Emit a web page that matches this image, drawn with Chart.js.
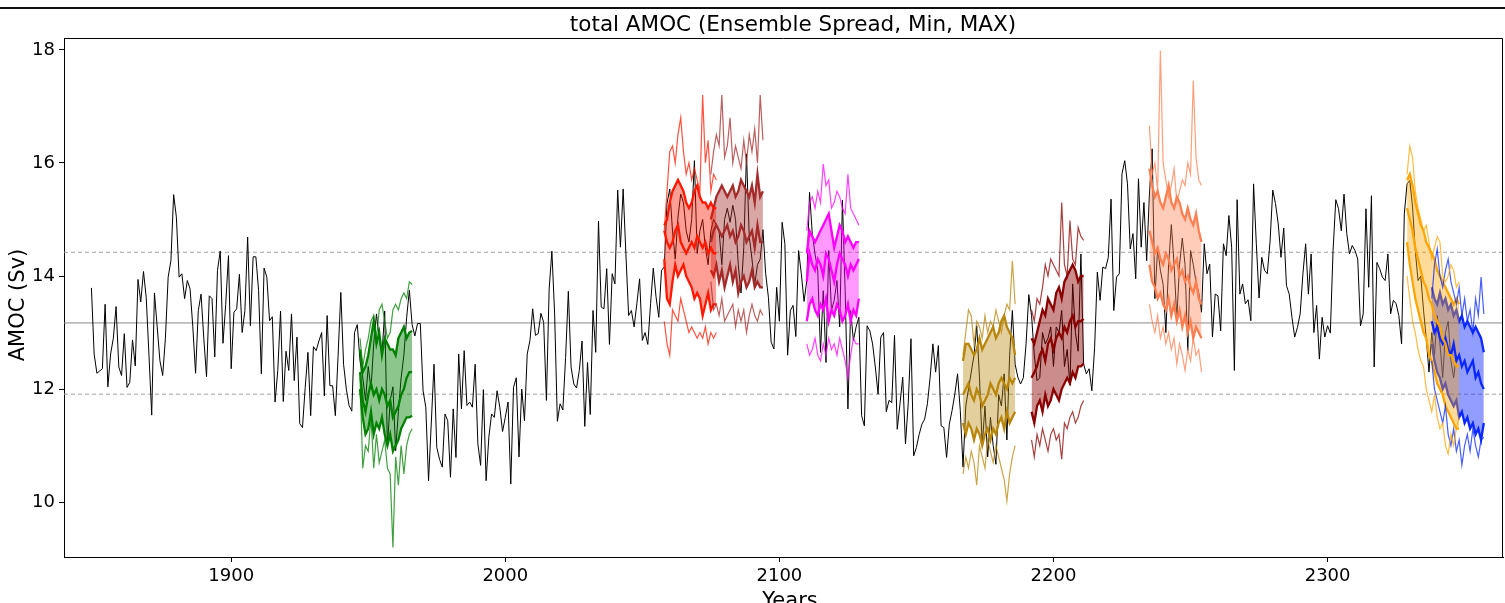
<!DOCTYPE html>
<html>
<head>
<meta charset="utf-8">
<script src="https://cdn.jsdelivr.net/npm/chart.js@4.4.1/dist/chart.umd.min.js"></script>
<style>
  html, body { margin: 0; padding: 0; background: #fff; }
  #wrap { position: relative; width: 1505px; height: 603px; }
</style>
</head>
<body>
<div id="wrap"><canvas id="amoc" width="1505" height="603"></canvas></div>
<script>
// serie control (negro), un valor por año desde 1849
var añoInicio = 1849;
var amocControl = [
  13.79,
  12.62, 12.28, 12.32, 12.36, 13.50, 12.04, 12.62, 12.90, 13.46, 12.39,
  12.24, 12.98, 12.03, 12.12, 12.87, 12.41, 13.94, 13.54, 14.08, 13.62,
  12.60, 11.54, 13.70, 13.10, 12.50, 12.24, 12.90, 13.98, 14.27, 15.44,
  15.04, 13.98, 14.04, 13.60, 13.92, 13.77, 13.10, 12.28, 13.39, 13.68,
  12.90, 12.22, 13.65, 13.60, 12.57, 14.10, 14.44, 12.81, 13.50, 14.36,
  12.36, 13.36, 13.42, 14.03, 13.00, 13.39, 14.69, 13.12, 14.34, 14.34,
  13.74, 12.27, 14.14, 13.98, 13.21, 13.28, 11.77, 12.33, 13.38, 11.78,
  12.67, 12.33, 13.33, 12.15, 12.92, 11.39, 11.32, 12.03, 12.65, 11.53,
  12.75, 12.68, 12.85, 13.00, 11.88, 13.30, 12.06, 12.06, 11.53, 12.60,
  13.71, 12.44, 12.00, 11.71, 11.61, 13.00, 13.14, 12.50, 12.20, 11.80,
  12.40, 12.00, 12.80, 13.33, 12.90, 12.60, 13.38, 10.97, 11.80, 12.04,
  10.91, 11.60, 12.20, 12.60, 13.26, 13.75, 13.14, 12.94, 13.16, 13.16,
  11.97, 11.68, 10.38, 11.40, 12.44, 10.97, 10.76, 10.62, 11.56, 11.44,
  10.44, 11.65, 10.79, 12.62, 11.65, 12.68, 11.71, 11.77, 11.68, 12.44,
  11.03, 10.65, 11.99, 10.38, 11.15, 11.56, 11.50, 11.97, 11.68, 11.25,
  11.50, 11.77, 10.32, 12.03, 12.20, 10.80, 12.00, 11.44, 12.62, 12.86,
  13.42, 12.95, 12.98, 13.34, 13.18, 11.80, 13.77, 14.44, 13.33, 11.43,
  11.74, 11.63, 12.56, 13.73, 12.39, 12.09, 12.02, 12.33, 12.85, 11.34,
  12.47, 11.55, 13.39, 12.65, 14.97, 13.45, 13.42, 14.13, 12.79, 14.04,
  13.86, 15.52, 14.51, 15.54, 14.39, 13.30, 13.39, 13.10, 13.51, 13.95,
  12.86, 13.00, 12.79, 13.51, 14.14, 13.63, 13.27, 14.10, 14.16, 15.28,
  15.54, 14.80, 14.30, 15.04, 15.45, 15.30, 14.80, 14.60, 15.00, 16.04,
  14.40, 14.80, 15.00, 14.50, 14.20, 14.80, 15.00, 14.90, 14.80, 14.20,
  15.00, 15.20, 14.95, 15.25, 15.00, 14.20, 13.70, 14.50, 16.16, 14.70,
  14.30, 13.85, 14.20, 14.30, 14.82, 14.04, 13.62, 12.83, 12.71, 13.80,
  13.20, 14.95, 14.57, 12.60, 13.39, 13.48, 12.93, 14.45, 14.04, 13.55,
  13.92, 15.48, 14.75, 14.39, 14.10, 12.65, 13.74, 12.47, 14.45, 13.39,
  13.57, 13.92, 13.10, 15.34, 13.74, 11.65, 13.39, 12.86, 13.10, 13.27,
  11.53, 11.35, 13.12, 13.03, 12.80, 12.39, 11.91, 12.92, 13.00, 11.60,
  11.80, 11.76, 12.95, 11.29, 11.74, 12.21, 11.03, 11.74, 12.89, 10.82,
  10.97, 11.20, 11.38, 11.47, 11.74, 12.21, 12.80, 12.30, 12.77, 11.35,
  11.32, 10.79, 11.38, 11.62, 11.91, 12.27, 11.62, 10.62, 11.70, 12.00,
  12.30, 12.60, 13.12, 12.20, 11.00, 11.70, 10.80, 11.50, 11.00, 10.67,
  11.90, 11.70, 12.27, 11.10, 12.60, 13.39, 12.44, 12.21, 12.09, 12.20,
  12.80, 13.67, 13.30, 12.60, 12.15, 12.20, 13.00, 12.80, 12.90, 13.10,
  12.40, 13.10, 13.00, 13.39, 12.40, 12.70, 12.07, 13.86, 13.00, 12.67,
  14.39, 12.44, 12.27, 12.36, 11.97, 12.73, 14.07, 13.57, 14.16, 14.13,
  14.33, 15.36, 13.39, 13.98, 14.04, 15.81, 16.04, 15.63, 14.48, 14.75,
  13.95, 15.72, 14.51, 15.30, 14.27, 15.45, 16.25, 13.60, 14.50, 14.10,
  13.85, 13.00, 14.20, 14.91, 14.20, 13.25, 14.20, 14.67, 14.20, 12.68,
  14.45, 14.20, 13.90, 13.70, 13.36, 14.57, 14.04, 14.21, 12.92, 13.68,
  13.65, 13.03, 14.57, 14.36, 15.07, 14.51, 12.33, 15.35, 13.68, 13.86,
  13.51, 13.58, 13.21, 15.63, 14.57, 13.61, 14.33, 14.10, 14.04, 14.60,
  15.52, 15.28, 14.92, 14.33, 14.85, 13.83, 13.68, 13.27, 12.92, 13.09,
  13.33, 14.04, 14.57, 13.68, 14.39, 13.00, 13.48, 12.53, 13.27, 12.92,
  13.12, 12.99, 14.45, 15.35, 15.19, 14.80, 15.45, 14.75, 14.39, 14.54,
  14.45, 14.30, 13.12, 13.33, 15.19, 13.80, 15.42, 12.39, 14.24, 14.13,
  13.98, 13.92, 14.39, 13.33, 13.57, 13.51, 13.30, 12.80, 15.10, 15.63,
  15.69, 15.22, 14.45, 13.92, 14.00, 13.40, 12.90, 12.30, 13.00, 12.60,
  13.30, 12.80, 12.20, 13.00, 13.20, 12.50, 12.20, 12.60
];

// media y +-1 desviación del control
var mediaControl = 13.17;
var bandaControl = [11.91, 14.42];

// ejes
var xMin = 1839, xMax = 2364;
var yMin = 9.03, yMax = 18.21;
var ticksX = [1900, 2000, 2100, 2200, 2300];
var ticksY = [10, 12, 14, 16, 18];

// ensembles: año inicial, máximo, banda superior, media, banda inferior, mínimo
var verdeInicio = 1947;
var verdeMax   = [12.9,12.4,12.7,12.9,13.2,13.3,12.9,13.4,13.5,13.2,12.9,13.0,13.4,13.5,13.4,13.6,13.7,13.6,13.9,13.85];
var verdeSup   = [12.7,12.3,12.4,12.6,12.9,13.2,12.8,13.0,12.6,12.9,12.8,12.7,12.7,12.6,12.9,13.0,13.1,12.9,13.0,13.03];
var verdeMedia = [12.3,11.8,11.6,11.9,12.1,11.9,12.0,11.8,12.0,11.9,11.7,11.8,11.5,11.6,11.7,11.9,12.0,12.2,12.3,12.3];
var verdeInf   = [12.0,11.5,11.2,11.3,11.6,11.2,11.4,11.3,11.5,11.2,11.0,11.2,10.9,11.0,11.1,11.3,11.4,11.5,11.5,11.53];
var verdeMin   = [12.2,10.6,11.0,10.9,11.5,10.6,11.2,10.7,10.9,11.1,10.6,10.5,9.2,10.8,10.3,11.0,10.5,11.0,11.2,11.3];

var rojoInicio = 2058;
var rojoMax   = [14.8,15.5,16.2,16.3,16.0,16.5,16.8,16.2,15.8,16.0,15.7,15.9,15.7,15.5,17.2,16.0,16.4,15.5,15.8,15.7];
var rojoSup   = [14.9,15.0,15.3,15.5,15.6,15.7,15.6,15.5,15.3,15.2,15.3,15.5,15.6,15.4,15.3,15.3,15.2,15.3,15.2,15.2];
var rojoMedia = [14.8,14.6,14.5,14.6,14.8,14.9,14.6,14.5,14.4,14.5,14.6,14.5,14.7,14.6,14.5,14.6,14.4,14.5,14.4,14.4];
var rojoInf   = [14.3,13.6,13.5,13.9,14.2,14.0,14.1,14.2,14.0,13.9,13.8,13.6,13.7,13.6,13.3,13.5,13.7,13.4,13.5,13.5];
var rojoMin   = [13.2,12.8,12.6,13.4,13.3,13.2,13.6,13.4,13.2,13.0,13.1,13.0,12.9,13.0,12.9,13.1,12.8,13.0,12.9,13.0];

var marronInicio = 2075;
var marronMax   = [15.8,16.2,16.5,16.3,17.2,16.1,16.3,16.8,16.0,16.3,16.1,15.9,16.4,16.0,16.5,16.2,16.6,16.0,17.2,16.4];
var marronSup   = [15.0,15.2,15.4,15.5,15.6,15.5,15.4,15.5,15.6,15.4,15.5,15.7,15.6,15.5,15.4,15.6,15.3,15.8,15.4,15.5];
var marronMedia = [14.6,14.8,14.9,14.8,14.7,14.8,14.9,14.7,14.8,14.6,14.7,14.9,14.8,14.6,14.7,14.8,14.5,14.9,14.6,14.6];
var marronInf   = [14.1,14.0,14.2,13.9,14.1,13.8,14.0,14.2,13.9,14.1,13.7,13.9,14.0,13.8,13.9,14.1,13.8,13.9,13.8,13.8];
var marronMin   = [13.9,13.4,13.5,13.3,13.6,13.2,13.3,13.4,13.5,13.1,13.4,13.2,13.4,13.0,13.3,13.5,13.3,13.2,13.4,13.3];

var magentaInicio = 2110;
var magentaMax   = [14.8,15.3,15.4,15.2,15.5,15.3,15.98,15.6,15.7,15.2,15.3,15.5,15.4,15.2,15.1,15.8,15.2,15.1,15.0,14.9];
var magentaSup   = [14.4,14.8,14.7,14.6,14.7,14.8,14.9,15.0,15.1,14.8,14.5,14.7,14.9,14.8,14.6,14.7,14.6,14.5,14.6,14.6];
var magentaMedia = [13.9,14.4,14.2,14.1,14.3,14.2,14.0,14.4,14.3,14.1,13.9,14.2,14.4,14.3,14.2,14.0,14.2,14.1,14.2,14.3];
var magentaInf   = [13.2,13.5,13.6,13.4,13.3,13.5,13.4,13.6,13.2,13.4,13.3,13.5,13.4,13.2,13.3,13.5,13.2,13.4,13.3,13.6];
var magentaMin   = [12.8,12.6,12.7,12.9,12.6,12.5,12.8,12.6,12.9,12.7,12.8,12.6,12.9,12.7,12.5,12.2,12.6,12.9,12.8,12.8];

var oroInicio = 2167;
var oroMax   = [12.6,13.0,13.4,13.3,12.8,13.2,13.1,12.9,13.3,13.0,13.2,13.1,13.4,13.2,13.0,13.3,13.5,13.4,14.27,13.5];
var oroSup   = [12.5,12.8,12.8,12.7,12.6,12.7,12.9,12.7,12.8,12.9,13.0,13.1,12.9,13.0,13.2,13.3,13.1,13.0,12.9,12.6];
var oroMedia = [11.9,12.0,12.1,11.9,11.8,12.0,11.9,11.7,11.8,11.9,12.1,12.0,11.9,12.1,12.2,12.1,12.0,12.2,12.1,12.2];
var oroInf   = [11.4,11.2,11.4,11.3,11.1,11.3,11.2,11.0,11.2,11.3,11.1,11.3,11.2,11.4,11.5,11.3,11.6,11.4,11.5,11.6];
var oroMin   = [10.5,10.8,10.6,10.9,10.7,10.3,11.0,10.8,10.6,11.1,10.9,10.7,11.0,10.8,10.6,10.4,10.02,10.5,10.8,11.0];

var granateInicio = 2192;
var granateMax   = [13.4,13.2,13.6,13.5,13.8,14.2,14.0,14.3,14.2,14.1,14.0,15.3,14.2,14.0,14.98,14.3,14.2,14.86,14.7,14.63];
var granateSup   = [12.9,12.8,13.0,13.2,13.4,13.3,13.6,13.5,13.4,13.7,13.8,13.6,13.9,14.0,14.1,14.2,14.1,13.9,14.0,14.0];
var granateMedia = [12.2,12.3,12.4,12.6,12.7,12.5,12.8,12.9,12.7,12.9,13.0,12.9,13.1,13.0,13.2,13.3,13.1,13.2,13.2,13.24];
var granateInf   = [11.6,11.4,11.7,11.8,11.6,11.9,11.7,11.8,12.0,11.9,11.8,12.0,12.1,12.2,12.1,12.3,12.2,12.4,12.4,12.45];
var granateMin   = [11.1,10.8,11.2,11.0,11.3,11.1,10.9,11.2,11.3,11.1,11.2,10.76,11.4,11.3,11.5,11.6,11.4,11.5,11.7,11.8];

var coralInicio = 2235;
var coralMax   = [16.66,15.8,16.0,15.5,17.99,16.0,15.7,15.4,15.6,15.9,15.3,15.5,15.7,15.6,16.0,15.8,17.46,16.1,15.7,15.6];
var coralSup   = [15.9,15.6,15.4,15.5,15.3,15.2,15.4,15.6,15.3,15.2,15.4,15.3,15.1,15.0,15.2,15.0,14.9,15.1,14.8,14.6];
var coralMedia = [14.8,14.6,14.4,14.5,14.3,14.2,14.4,14.3,14.1,14.2,14.3,14.0,14.1,13.9,14.0,13.8,13.7,13.9,13.6,13.5];
var coralInf   = [14.2,13.9,13.8,13.6,13.7,13.5,13.4,13.6,13.3,13.5,13.2,13.4,13.1,13.3,13.0,13.2,12.9,13.1,13.0,12.9];
var coralMin   = [13.5,13.2,13.0,13.3,12.9,13.1,12.8,13.0,12.7,12.9,12.44,12.8,12.6,12.33,12.7,12.5,12.9,12.6,12.7,12.3];

var naranjaInicio = 2329;
var naranjaMax   = [15.8,16.3,16.1,15.5,15.2,15.0,14.8,14.9,14.6,14.3,14.5,14.7,14.6,14.0,13.9,14.0,14.2,14.1,13.8,13.9];
var naranjaSup   = [15.7,15.8,15.6,15.3,15.1,14.9,14.8,14.6,14.5,14.4,14.3,14.1,14.0,13.9,13.8,13.7,13.6,13.5,13.6,13.5];
var naranjaMedia = [15.2,15.0,14.8,14.5,14.3,14.1,13.9,13.8,13.6,13.5,13.3,13.2,13.1,12.9,12.8,12.6,12.6,12.5,12.4,12.4];
var naranjaInf   = [14.6,14.2,13.9,13.6,13.4,13.2,13.0,12.9,12.6,12.5,12.3,12.1,12.0,11.9,11.7,11.6,11.5,11.4,11.3,11.3];
var naranjaMin   = [14.0,13.6,13.2,13.0,12.7,12.5,12.4,12.0,11.8,11.6,11.9,11.5,11.3,11.4,11.0,10.85,11.2,11.0,11.3,11.5];

var azulInicio = 2338;
var azulMax   = [13.6,14.2,14.48,14.0,13.8,14.1,14.3,13.9,13.7,13.5,13.8,13.3,13.6,13.2,13.4,13.0,13.6,13.3,13.98,13.33];
var azulSup   = [13.8,13.6,13.5,13.7,13.5,13.6,13.4,13.5,13.3,13.4,13.2,13.3,13.1,13.2,13.1,13.0,13.1,13.0,12.9,12.65];
var azulMedia = [13.2,13.0,13.1,12.9,12.8,12.9,12.7,12.6,12.8,12.5,12.6,12.4,12.5,12.3,12.4,12.5,12.2,12.3,12.1,12.0];
var azulInf   = [12.8,12.5,12.3,12.2,12.0,12.1,11.9,11.8,11.7,11.8,11.5,11.6,11.4,11.5,11.3,11.4,11.2,11.3,11.1,11.4];
var azulMin   = [12.5,12.0,11.8,11.6,11.4,11.7,11.2,11.0,11.3,10.9,11.1,10.66,11.0,11.2,10.9,11.3,11.0,10.8,11.1,11.15];

// convertir a puntos {x, y}
function puntos(inicio, valores) {
    return valores.map(function(v, i) { return { x: inicio + i, y: v }; });
}

function conAlfa(rgb, a) {
    return 'rgba(' + rgb.join(',') + ',' + a + ')';
}

var datasets = [];

// líneas horizontales de referencia
datasets.push({
    data: [{ x: xMin, y: mediaControl }, { x: xMax, y: mediaControl }],
    borderColor: '#8a8a8a', borderWidth: 1, order: 100
});
bandaControl.forEach(function(nivel) {
    datasets.push({
        data: [{ x: xMin, y: nivel }, { x: xMax, y: nivel }],
        borderColor: '#a0a0a0', borderWidth: 1, borderDash: [4, 3], order: 100
    });
});

// control
datasets.push({
    data: puntos(añoInicio, amocControl),
    borderColor: '#000', borderWidth: 1, order: 50
});

// agregar un ensemble (relleno entre banda superior e inferior)
function agregarEnsemble(inicio, max, sup, media, inf, min, rgb, alfaRelleno) {
    var color = conAlfa(rgb, 1);
    var fino = conAlfa(rgb, 0.75);
    datasets.push({ data: puntos(inicio, max), borderColor: fino, borderWidth: 1.2, order: 10 });
    datasets.push({ data: puntos(inicio, min), borderColor: fino, borderWidth: 1.2, order: 10 });
    datasets.push({
        data: puntos(inicio, sup), borderColor: color, borderWidth: 2.3, order: 20,
        fill: '+1', backgroundColor: conAlfa(rgb, alfaRelleno)
    });
    datasets.push({ data: puntos(inicio, inf), borderColor: color, borderWidth: 2.3, order: 20 });
    datasets.push({ data: puntos(inicio, media), borderColor: color, borderWidth: 2.3, order: 10 });
}

agregarEnsemble(verdeInicio, verdeMax, verdeSup, verdeMedia, verdeInf, verdeMin, [0, 128, 0], 0.45);
agregarEnsemble(rojoInicio, rojoMax, rojoSup, rojoMedia, rojoInf, rojoMin, [255, 24, 0], 0.42);
agregarEnsemble(marronInicio, marronMax, marronSup, marronMedia, marronInf, marronMin, [165, 42, 42], 0.42);
agregarEnsemble(magentaInicio, magentaMax, magentaSup, magentaMedia, magentaInf, magentaMin, [255, 0, 255], 0.4);
agregarEnsemble(oroInicio, oroMax, oroSup, oroMedia, oroInf, oroMin, [184, 134, 11], 0.4);
agregarEnsemble(granateInicio, granateMax, granateSup, granateMedia, granateInf, granateMin, [139, 0, 0], 0.45);
agregarEnsemble(coralInicio, coralMax, coralSup, coralMedia, coralInf, coralMin, [255, 127, 80], 0.4);
agregarEnsemble(naranjaInicio, naranjaMax, naranjaSup, naranjaMedia, naranjaInf, naranjaMin, [255, 165, 0], 0.4);
agregarEnsemble(azulInicio, azulMax, azulSup, azulMedia, azulInf, azulMin, [10, 40, 255], 0.45);

// marco, títulos y línea superior
var decoracion = {
    id: 'decoracion',
    afterDraw: function(chart) {
        var ctx = chart.ctx, a = chart.chartArea;
        ctx.save();
        ctx.fillStyle = '#111';
        ctx.fillRect(0, 7, 1505, 2);
        ctx.strokeStyle = '#000';
        ctx.lineWidth = 1;
        ctx.beginPath();
        ctx.moveTo(a.left + 0.5, a.top + 0.5);
        ctx.lineTo(a.right - 0.5, a.top + 0.5);
        ctx.lineTo(a.right - 0.5, a.bottom);
        ctx.stroke();
        ctx.fillStyle = '#000';
        ctx.font = '21.5px "DejaVu Sans"';
        ctx.textAlign = 'center';
        ctx.textBaseline = 'middle';
        ctx.fillText('total AMOC (Ensemble Spread, Min, MAX)', 793, 25);
        ctx.textBaseline = 'alphabetic';
        ctx.font = '21px "DejaVu Sans"';
        ctx.fillText('Years', 790, 607);
        ctx.translate(24, 305);
        ctx.rotate(-Math.PI / 2);
        ctx.fillText('AMOC (Sv)', 0, 0);
        ctx.restore();
    }
};

var ctx = document.getElementById('amoc').getContext('2d');
var grafico = new Chart(ctx, {
    type: 'line',
    data: { datasets: datasets },
    options: {
        responsive: false,
        animation: false,
        layout: { padding: { left: 0, right: 2, top: 38, bottom: 0 } },
        elements: { point: { radius: 0 }, line: { tension: 0, fill: false } },
        plugins: { legend: { display: false }, tooltip: { enabled: false }, title: { display: false } },
        scales: {
            x: {
                type: 'linear', min: xMin, max: xMax,
                afterBuildTicks: function(s) { s.ticks = ticksX.map(function(v) { return { value: v }; }); },
                afterFit: function(s) { s.height = 46; },
                grid: { drawOnChartArea: false, tickLength: 5, color: '#000' },
                border: { color: '#000', width: 1 },
                ticks: { color: '#000', padding: 4, maxRotation: 0, font: { family: 'DejaVu Sans', size: 18 },
                         callback: function(v) { return String(v); } }
            },
            y: {
                min: yMin, max: yMax,
                afterBuildTicks: function(s) { s.ticks = ticksY.map(function(v) { return { value: v }; }); },
                afterFit: function(s) { s.width = 64; },
                grid: { drawOnChartArea: false, tickLength: 5, color: '#000' },
                border: { color: '#000', width: 1 },
                ticks: { color: '#000', padding: 4, font: { family: 'DejaVu Sans', size: 18 },
                         callback: function(v) { return String(v); } }
            }
        }
    },
    plugins: [decoracion]
});
</script>
</body>
</html>
